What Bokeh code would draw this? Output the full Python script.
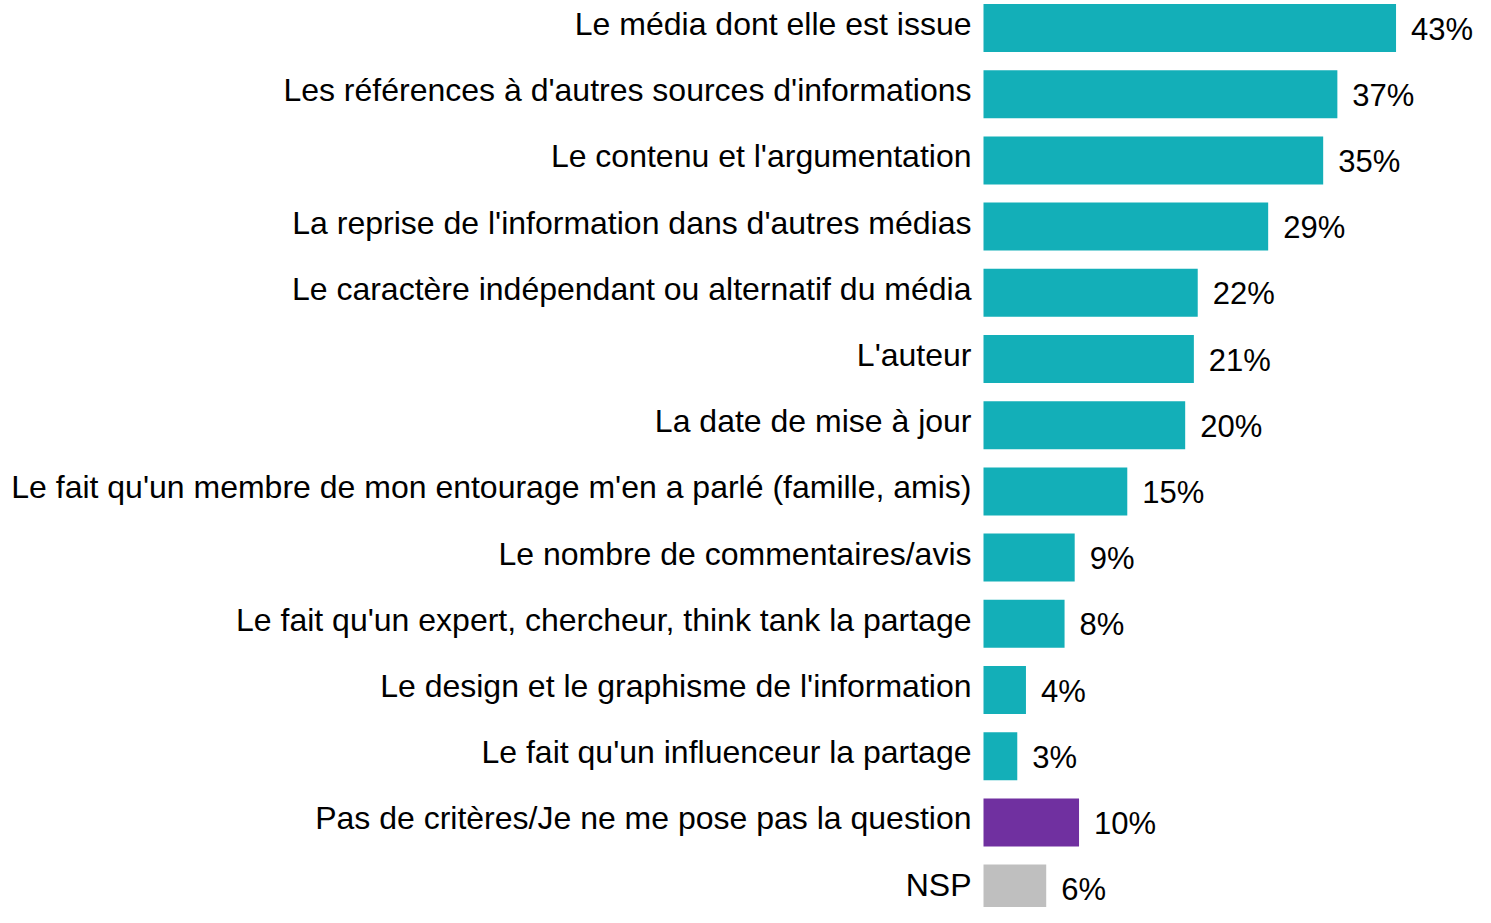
from bokeh.plotting import figure
from bokeh.models import ColumnDataSource, Range1d
from bokeh.core.properties import value
from bokeh.embed import file_html
from bokeh.resources import INLINE

categories = [
    "Le média dont elle est issue",
    "Les références à d'autres sources d'informations",
    "Le contenu et l'argumentation",
    "La reprise de l'information dans d'autres médias",
    "Le caractère indépendant ou alternatif du média",
    "L'auteur",
    "La date de mise à jour",
    "Le fait qu'un membre de mon entourage m'en a parlé (famille, amis)",
    "Le nombre de commentaires/avis",
    "Le fait qu'un expert, chercheur, think tank la partage",
    "Le design et le graphisme de l'information",
    "Le fait qu'un influenceur la partage",
    "Pas de critères/Je ne me pose pas la question",
    "NSP",
]
values = [42.75, 36.67, 35.2, 29.5, 22.2, 21.8, 20.9, 14.9, 9.45, 8.4, 4.4, 3.5, 9.9, 6.5]
value_labels = ["43%", "37%", "35%", "29%", "22%", "21%", "20%", "15%", "9%", "8%", "4%", "3%", "10%", "6%"]

TEAL = "#13AFB8"
PURPLE = "#7030A0"
GREY = "#BFBFBF"
colors = [TEAL] * (len(categories) - 2) + [PURPLE, GREY]

src = ColumnDataSource(dict(
    y=list(range(len(categories))),
    cat=categories,
    v=values,
    lab=value_labels,
    color=colors,
))

W, H = 1475, 907
px_per_unit = 9.65
zero_px = 983.0          # x of value 0 inside the figure
row_px = 66.2
row0_px = 27.5           # centre of first row from top of figure

p = figure(
    width=W, height=H,
    output_backend="svg", toolbar_location=None,
    x_range=Range1d(-zero_px / px_per_unit, (W - zero_px) / px_per_unit),
    y_range=Range1d((H - row0_px) / row_px, -row0_px / row_px),
    min_border=0, min_border_left=0, min_border_right=0,
    min_border_top=0, min_border_bottom=0,
)
p.xaxis.visible = False
p.yaxis.visible = False
p.xgrid.grid_line_color = None
p.ygrid.grid_line_color = None
p.outline_line_color = None
p.background_fill_color = "white"
p.border_fill_color = "white"

p.hbar(y="y", left=0, right="v", height=48 / row_px, fill_color="color",
       line_color=None, source=src)

FONT = value("Liberation Sans")
p.text(x="v", y="y", text="lab", source=src, x_offset=15, y_offset=1,
       text_align="left", text_baseline="middle", text_font=FONT,
       text_font_size="31px", text_color="#000000")
p.text(x=0, y="y", text="cat", source=src, x_offset=-12, y_offset=-4,
       text_align="right", text_baseline="middle", text_font=FONT,
       text_font_size="32px", text_color="#000000")

open("out.html", "w").write(file_html(p, INLINE))
